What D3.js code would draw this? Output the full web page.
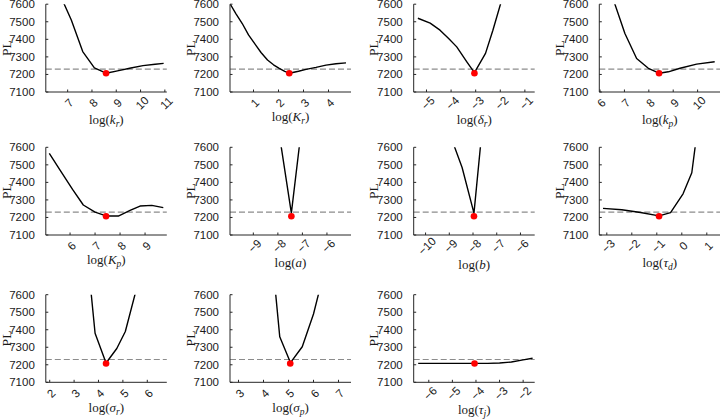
<!DOCTYPE html>
<html><head><meta charset="utf-8">
<script src="https://cdn.jsdelivr.net/npm/d3@7"></script>
<style>body{margin:0;background:#fff}</style>
</head><body>
<svg id="c" width="720" height="419"></svg>
<script>
// ---------- data ----------
const yTicks = [7100, 7200, 7300, 7400, 7500, 7600];
const yDomain = [7100, 7600];
const thresholdPL = 7230;
const optPL = 7207;
const symbols = [["k","r"],["K","r"],["δ","r"],["k","p"],["K","p"],["a",""],["b",""],["τ","d"],["σ","r"],["σ","p"],["τ","j"]];
const xDomains = [[6.10,11.08],[0.06,4.9],[-5.52,-0.6],[5.97,10.93],[5.03,9.87],[-9.95,-5.02],[-10.5,-5.4],[-3.3,1.54],[1.84,6.8],[2.66,7.5],[-6.64,-1.51]];
const xTicks = [[7,8,9,10,11],[1,2,3,4],[-5,-4,-3,-2,-1],[6,7,8,9,10],[6,7,8,9],[-9,-8,-7,-6],[-10,-9,-8,-7,-6],[-3,-2,-1,0,1],[2,3,4,5,6],[3,4,5,6,7],[-6,-5,-4,-3,-2]];
const optX = [8.58, 2.43, -3.05, 8.42, 7.44, -7.45, -7.96, -0.91, 4.31, 5.07, -4.06];
const curveKr  = [[6.6,7680],[7.15,7510],[7.62,7330],[8.1,7237],[8.58,7207],[9.1,7222],[9.6,7237],[10.1,7250],[10.6,7258],[10.95,7263]];
const curveKR  = [[0.05,7605],[0.3,7545],[0.55,7490],[0.8,7425],[1.09,7367],[1.3,7325],[1.56,7282],[1.8,7255],[2.03,7235],[2.25,7218],[2.43,7207],[2.8,7218],[3.1,7229],[3.5,7240],[3.9,7253],[4.3,7261],[4.7,7266]];
const curveDr  = [[-5.35,7520],[-4.85,7492],[-4.45,7452],[-4.1,7405],[-3.77,7357],[-3.36,7272],[-3.05,7210],[-2.6,7320],[-2.3,7452],[-1.95,7620]];
const curveKp  = [[6.45,7665],[7.02,7433],[7.5,7291],[7.98,7235],[8.42,7207],[8.8,7215],[9.28,7235],[9.96,7259],[10.7,7272]];
const curveKP  = [[5.17,7566],[5.6,7470],[6.1,7360],[6.53,7271],[7.0,7230],[7.47,7208],[7.93,7208],[8.4,7240],[8.8,7265],[9.27,7269],[9.73,7256]];
const curveA   = [[-7.95,7682],[-7.45,7225],[-6.95,7811]];
const curveB   = [[-8.96,7669],[-8.46,7485],[-7.96,7225],[-7.46,7920]];
const curveTd  = [[-3.15,7252],[-2.4,7244],[-1.65,7228],[-0.91,7209],[-0.45,7228],[0.05,7335],[0.4,7455],[0.55,7620]];
const curveSr  = [[3.62,7720],[3.86,7380],[4.31,7210],[4.75,7293],[5.1,7390],[5.55,7630]];
const curveSp  = [[4.45,7660],[4.65,7360],[5.08,7212],[5.55,7303],[6.0,7490],[6.3,7660]];
const curveTj  = [[-6.45,7208],[-5.5,7208],[-4.5,7208],[-3.5,7208],[-3.0,7210],[-2.5,7216],[-2.0,7228],[-1.6,7237]];
const curves = [curveKr, curveKR, curveDr, curveKp, curveKP, curveA, curveB, curveTd, curveSr, curveSp, curveTj];

// ---------- layout ----------
const colLeft = [45.8, 230, 413.7, 599.3];
const plotW = 121;
const rowY = [[4.2, 92], [147.3, 235], [294.7, 382.3]];

const svg = d3.select("#c");
const tickFont = "'Liberation Sans', Arial, Helvetica, sans-serif";
const serif = "'Liberation Serif', 'DejaVu Serif', 'Times New Roman', serif";
const axisCol = "#262626";

curves.forEach((data, i) => {
  const r = Math.floor(i / 4), c = i % 4;
  const x0 = colLeft[c], x1 = x0 + plotW;
  const [yTop, yBot] = rowY[r];
  const xs = d3.scaleLinear().domain(xDomains[i]).range([x0, x1]);
  const ys = d3.scaleLinear().domain(yDomain).range([yBot, yTop]);
  const g = svg.append("g");

  const clipId = "clip" + i;
  svg.append("clipPath").attr("id", clipId).append("rect")
    .attr("x", x0).attr("y", yTop).attr("width", plotW).attr("height", yBot - yTop);

  // threshold dashed line
  g.append("line").attr("x1", x0).attr("x2", x1)
    .attr("y1", ys(thresholdPL)).attr("y2", ys(thresholdPL))
    .attr("stroke", "#8c8c8c").attr("stroke-width", 1.2).attr("stroke-dasharray", "6,3");

  // curve
  g.append("path").datum(data)
    .attr("clip-path", `url(#${clipId})`)
    .attr("d", d3.line().x(d => xs(d[0])).y(d => ys(d[1])))
    .attr("fill", "none").attr("stroke", "#000").attr("stroke-width", 1.4)
    .attr("stroke-linejoin", "round");

  // optimum
  g.append("circle").attr("cx", xs(optX[i])).attr("cy", ys(optPL)).attr("r", 3.3).attr("fill", "#ff0000");

  // axes lines
  g.append("line").attr("x1", x0).attr("x2", x0).attr("y1", yTop).attr("y2", yBot)
    .attr("stroke", axisCol).attr("stroke-width", 1);
  g.append("line").attr("x1", x0).attr("x2", x1).attr("y1", yBot).attr("y2", yBot)
    .attr("stroke", axisCol).attr("stroke-width", 1);

  // y ticks
  yTicks.forEach(t => {
    g.append("line").attr("x1", x0).attr("x2", x0 + 2.5).attr("y1", ys(t)).attr("y2", ys(t))
      .attr("stroke", axisCol).attr("stroke-width", 1);
    g.append("text").attr("x", x0 - 11).attr("y", ys(t)).attr("dy", "0.35em")
      .attr("text-anchor", "end").attr("font-family", tickFont).attr("font-size", 11.5)
      .attr("fill", "#1a1a1a").text(t);
  });

  // x ticks
  let maxW = 0;
  xTicks[i].forEach(t => {
    const px = xs(t);
    g.append("line").attr("x1", px).attr("x2", px).attr("y1", yBot).attr("y2", yBot - 2.5)
      .attr("stroke", axisCol).attr("stroke-width", 1);
    const lbl = t < 0 ? "\u2212" + Math.abs(t) : String(t);
    const tx = g.append("text")
      .attr("transform", `translate(${px + 1.5},${yBot + 11}) rotate(-45)`)
      .attr("text-anchor", "middle").attr("dy", "0.35em")
      .attr("font-family", tickFont).attr("font-size", 11.5).attr("fill", "#1a1a1a").text(lbl);
    maxW = Math.max(maxW, tx.node().getComputedTextLength());
  });

  // y label
  g.append("text").attr("transform", `translate(${x0 - 40},${(yTop + yBot) / 2}) rotate(-90)`)
    .attr("text-anchor", "middle").attr("dy", "0.35em")
    .attr("font-family", serif).attr("font-size", 13.5).attr("fill", "#1a1a1a").text("PL");

  // x label
  const half = (maxW + 8.5) * 0.354;
  const ly = yBot + 11 + half + 13;
  const xl = g.append("text").attr("x", (x0 + x1) / 2).attr("y", ly)
    .attr("text-anchor", "middle").attr("font-family", serif).attr("font-size", 13)
    .attr("fill", "#1a1a1a");
  const [sym, sub] = symbols[i];
  xl.append("tspan").text("log(");
  xl.append("tspan").attr("font-style", "italic").text(sym);
  if (sub) {
    xl.append("tspan").attr("font-style", "italic").attr("font-size", 9.5).attr("dy", 3).text(sub);
    xl.append("tspan").attr("dy", -3).text(")");
  } else {
    xl.append("tspan").text(")");
  }
});
</script>
</body></html>
